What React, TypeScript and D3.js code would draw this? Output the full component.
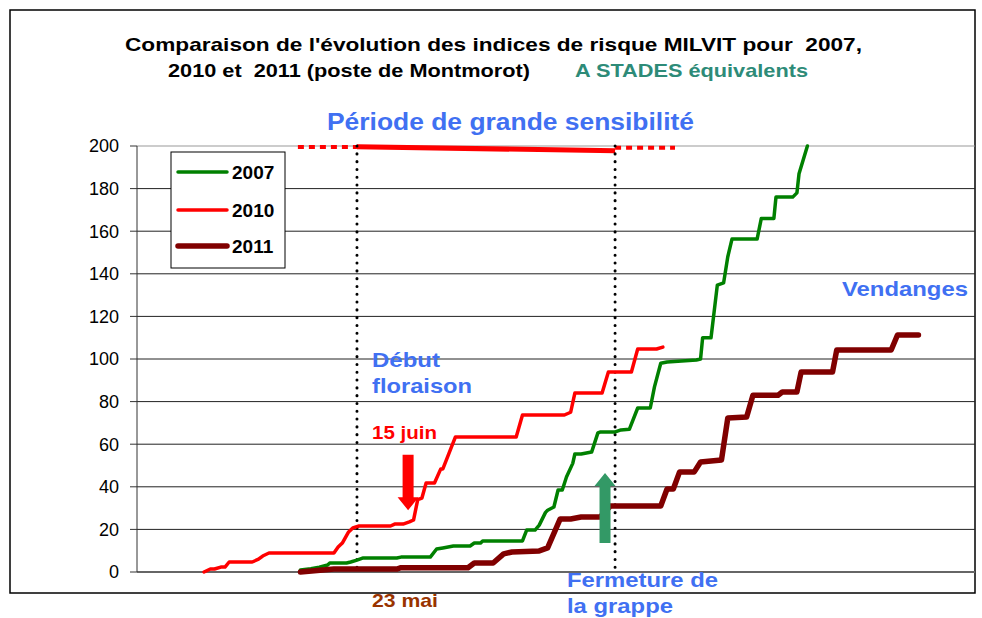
import React from "react";
import * as d3 from "d3";

// indices de risque cumulés (jour relatif, valeur)
const days2007 = [39, 41.5, 43.5, 45.5, 46, 50, 51, 52.5, 54, 62, 63, 70, 71.5, 73, 75.5, 79.5, 80.5, 82, 82.5, 92, 93, 95, 96, 97.5, 98, 99.5, 100.5, 101.5, 102.5, 104, 104.5, 106, 108.5, 110, 110.5, 114, 115.5, 117.5, 119.5, 122.5, 123.5, 125, 126.5, 133.5, 134.5, 135, 137, 138.5, 140, 141, 142, 148, 149, 152, 152.5, 156.5, 157.5, 158, 160];
const vals2007 = [1, 1.5, 2.3, 3.3, 4.2, 4.2, 4.7, 5.6, 6.6, 6.6, 7, 7, 10.8, 11.3, 12.2, 12.2, 13.6, 13.6, 14.6, 14.6, 19.7, 19.7, 22, 28, 29, 30.5, 38.5, 38.5, 44.6, 51, 55.4, 55.4, 56.3, 65.3, 65.7, 65.7, 66.7, 67, 77, 77, 86.9, 98, 98.6, 99.5, 100, 110, 110, 134.7, 135.7, 148, 156.3, 156.3, 166, 166, 176, 176, 178, 187, 200];

const days2010 = [16, 17.5, 18.5, 20, 21, 22, 27.5, 29, 30, 31.5, 47, 48, 49, 50.5, 51.5, 53, 60.5, 61.5, 63.5, 65, 66, 67, 68, 69, 71, 72.5, 73, 74.5, 76, 90.5, 92, 102, 103.5, 104.5, 111, 112.5, 118, 119.5, 124, 125.5];
const vals2010 = [0, 1.4, 1.4, 2.3, 2.3, 4.7, 4.7, 6, 7.5, 8.9, 8.9, 11.7, 13.6, 18.8, 20.7, 21.6, 21.6, 22.5, 22.5, 23.5, 24.4, 34, 34.7, 41.8, 41.8, 48.4, 48.4, 55.9, 63.4, 63.4, 73.7, 73.7, 75, 84, 84, 93.9, 93.9, 104.7, 104.7, 105.6];

const days2011 = [39, 47, 62, 63, 79, 80.5, 85, 87.5, 89.5, 96, 98, 101, 103.5, 106, 110.5, 113, 125, 126.5, 128, 129.5, 133, 134.5, 139.5, 141, 145.5, 147, 153, 154, 157.5, 158.5, 166, 167, 180, 181.5, 186.5];
const vals2011 = [0, 1.4, 1.4, 2, 2, 4.2, 4.2, 8.5, 9.4, 9.9, 11.3, 24.9, 24.9, 25.8, 25.8, 31, 31, 39, 39, 47, 47, 51.6, 52.6, 72.3, 72.8, 83, 83, 84.5, 84.5, 93.9, 93.9, 104.2, 104.2, 111.3, 111.3];

const seriesNames = ["2007", "2010", "2011"];
const seriesColors = ["#008000", "#ff0000", "#800000"];
const seriesWidths = [3.5, 3.5, 5.5];
const yTicks = [0, 20, 40, 60, 80, 100, 120, 140, 160, 180, 200];

// stades : début floraison, fermeture de la grappe
const stageDays = [52.5, 114.1];
const periodStart = 38.4;
const periodEnd = 128.4;

const W = 982;
const H = 618;
const left = 137;
const right = 975;
const top = 146;
const bottom = 572;

const blue = "#4070f2";

export default function App() {
  const x = d3.scaleLinear().domain([0, 200]).range([left, right]);
  const y = d3.scaleLinear().domain([0, 200]).range([bottom, top]);

  const series = [
    days2007.map((d, i) => [d, vals2007[i]] as [number, number]),
    days2010.map((d, i) => [d, vals2010[i]] as [number, number]),
    days2011.map((d, i) => [d, vals2011[i]] as [number, number]),
  ];
  const line = d3
    .line<[number, number]>()
    .x((d) => x(d[0]))
    .y((d) => y(d[1]));

  const bold = { fontFamily: "Liberation Sans, Arial, sans-serif", fontWeight: 700 };

  // flèche (jour, valeur départ, valeur pointe)
  const arrow = (day: number, from: number, to: number, color: string) => {
    const cx = x(day);
    const y0 = y(from);
    const y1 = y(to);
    const dir = y1 > y0 ? 1 : -1;
    const headY = y1 - dir * 13;
    return (
      <path
        d={`M${cx - 5.5},${y0} L${cx + 5.5},${y0} L${cx + 5.5},${headY} L${cx + 10.5},${headY} L${cx},${y1} L${cx - 10.5},${headY} L${cx - 5.5},${headY} Z`}
        fill={color}
      />
    );
  };

  return (
    <svg
      width={W}
      height={H}
      style={{ position: "absolute", left: 0, top: 0, background: "#fff" }}
    >
      <rect x={10} y={10} width={965} height={583} fill="#fff" stroke="#000" strokeWidth={1.5} />

      {/* titre */}
      <text x={125} y={51} fontSize={19} style={{ ...bold, whiteSpace: "pre" }} textLength={737} lengthAdjust="spacingAndGlyphs">
        Comparaison de l'évolution des indices de risque MILVIT pour  2007,
      </text>
      <text x={168} y={77} fontSize={19} style={{ ...bold, whiteSpace: "pre" }} textLength={362} lengthAdjust="spacingAndGlyphs">
        2010 et  2011 (poste de Montmorot)
      </text>
      <text x={575} y={77} fontSize={19} fill="#2e8b78" style={bold} textLength={233} lengthAdjust="spacingAndGlyphs">
        A STADES équivalents
      </text>
      <text x={327} y={130} fontSize={23} fill={blue} style={bold} textLength={367} lengthAdjust="spacingAndGlyphs">
        Période de grande sensibilité
      </text>

      {/* grille */}
      {yTicks.slice(1).map((t) => (
        <line key={t} x1={left} x2={right} y1={y(t)} y2={y(t)} stroke={t === 200 ? "#999" : "#222"} strokeWidth={1} />
      ))}
      <line x1={left} x2={right} y1={y(0)} y2={y(0)} stroke="#666" strokeWidth={2} />
      <line x1={left} x2={left} y1={top} y2={bottom} stroke="#333" strokeWidth={1} />
      {yTicks.map((t) => (
        <g key={t}>
          <line x1={left - 7} x2={left} y1={y(t)} y2={y(t)} stroke="#333" />
          <text
            x={119}
            y={y(t)}
            dy="0.35em"
            textAnchor="end"
            fontSize={18}
            style={{ fontFamily: "Liberation Sans, Arial, sans-serif" }}
          >
            {t}
          </text>
        </g>
      ))}

      {/* période de grande sensibilité */}
      <line x1={x(periodStart)} x2={x(stageDays[0])} y1={y(199.5)} y2={y(199.5)} stroke="#ff0000" strokeWidth={4} strokeDasharray="6,5" />
      <line x1={x(stageDays[0])} x2={x(stageDays[1])} y1={y(199.6)} y2={y(197.8)} stroke="#ff0000" strokeWidth={5} />
      <line x1={x(stageDays[1])} x2={x(periodEnd)} y1={y(199.2)} y2={y(199.2)} stroke="#ff0000" strokeWidth={4} strokeDasharray="6,5" />

      {stageDays.map((d) => (
        <line
          key={d}
          x1={x(d)}
          x2={x(d)}
          y1={top}
          y2={bottom}
          stroke="#000"
          strokeWidth={3}
          strokeLinecap="round"
          strokeDasharray="0.1,7.7"
        />
      ))}

      {/* séries */}
      {series.map((s, i) => (
        <path
          key={seriesNames[i]}
          d={line(s) || ""}
          fill="none"
          stroke={seriesColors[i]}
          strokeWidth={seriesWidths[i]}
          strokeLinejoin="round"
          strokeLinecap="round"
        />
      ))}

      {arrow(64.7, 55, 29, "#ff0000")}
      {arrow(111.7, 13.6, 46.5, "#339966")}

      {/* légende */}
      <rect x={171} y={152} width={114} height={116} fill="#fff" stroke="#000" strokeWidth={1} />
      {seriesNames.map((n, i) => {
        const ly = [172, 210, 246][i];
        return (
          <g key={n}>
            <line x1={178} x2={227} y1={ly} y2={ly} stroke={seriesColors[i]} strokeWidth={seriesWidths[i]} strokeLinecap="round" />
            <text x={232} y={ly + 7} fontSize={19} style={bold}>
              {n}
            </text>
          </g>
        );
      })}

      {/* annotations */}
      <text x={372} y={367} fontSize={21} fill={blue} style={bold} textLength={68} lengthAdjust="spacingAndGlyphs">Début</text>
      <text x={372} y={393} fontSize={21} fill={blue} style={bold} textLength={100} lengthAdjust="spacingAndGlyphs">floraison</text>
      <text x={372} y={439} fontSize={19} fill="#ff0000" style={bold} textLength={65} lengthAdjust="spacingAndGlyphs">15 juin</text>
      <text x={372} y={607} fontSize={19} fill="#993300" style={bold} textLength={66} lengthAdjust="spacingAndGlyphs">23 mai</text>
      <text x={567} y={587} fontSize={21} fill={blue} style={bold} textLength={151} lengthAdjust="spacingAndGlyphs">Fermeture de</text>
      <text x={567} y={613} fontSize={21} fill={blue} style={bold} textLength={106} lengthAdjust="spacingAndGlyphs">la grappe</text>
      <text x={842} y={296} fontSize={21} fill={blue} style={bold} textLength={126} lengthAdjust="spacingAndGlyphs">Vendanges</text>
    </svg>
  );
}
